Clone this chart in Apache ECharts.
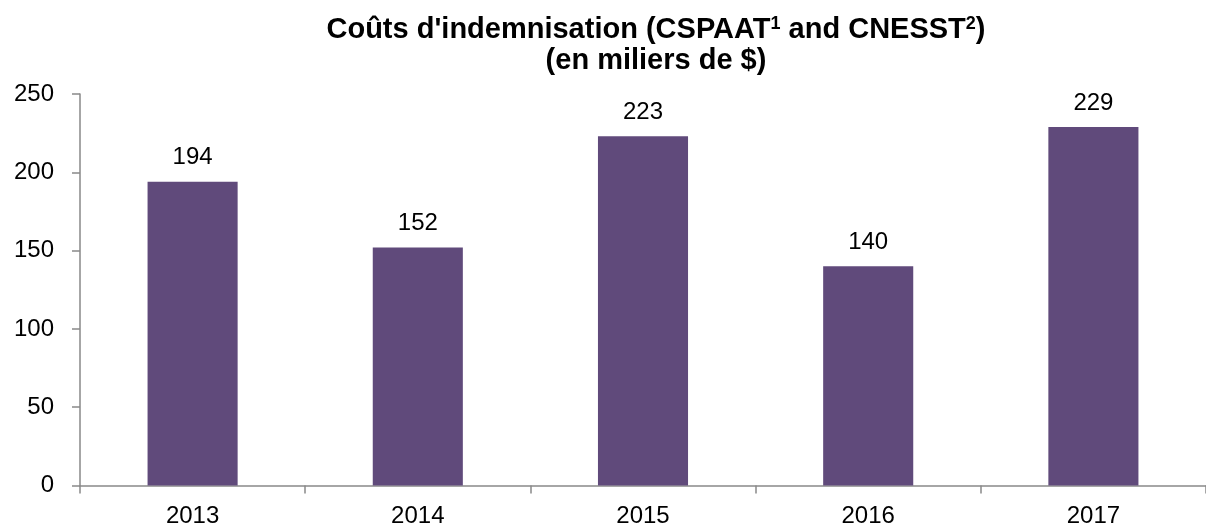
<!DOCTYPE html>
<html>
<head>
<meta charset="utf-8">
<script src="https://cdn.jsdelivr.net/npm/echarts@6/dist/echarts.min.js"></script>
<style>
html,body{margin:0;padding:0;background:#fff;}
#chart{width:1206px;height:529px;}
</style>
</head>
<body>
<div id="chart"></div>
<script>
const categories = ['2013', '2014', '2015', '2016', '2017'];
const values = [194, 152, 223, 140, 229];
const yTicks = [0, 50, 100, 150, 200, 250];

const chart = echarts.init(document.getElementById('chart'), null, {renderer: 'canvas'});
const FONT = '"Liberation Sans", Arial, sans-serif';
chart.setOption({
  animation: false,
  backgroundColor: '#ffffff',
  title: {
    text: "{t|Coûts d'indemnisation (CSPAAT}{s|1}{t| and CNESST}{s|2}{t|)}\n{t|(en miliers de $)}",
    left: 651,
    top: 9,
    textAlign: 'center',
    textStyle: {
      fontFamily: FONT,
      fontWeight: 'bold',
      fontSize: 29,
      color: '#000',
      lineHeight: 31,
      rich: {
        t: {fontFamily: FONT, fontWeight: 'bold', fontSize: 29, color: '#000', lineHeight: 31},
        s: {fontFamily: FONT, fontWeight: 'bold', fontSize: 18, color: '#000', lineHeight: 31, padding: [0, 0, 10, 0]}
      }
    }
  },
  grid: {left: 80, top: 94, width: 1135, bottom: 43.5, containLabel: false},
  xAxis: {
    type: 'category',
    data: categories,
    boundaryGap: true,
    axisLine: {show: true, lineStyle: {color: '#898989', width: 1.5}},
    axisTick: {show: true, alignWithLabel: false, length: 8, lineStyle: {color: '#898989', width: 1.5}},
    axisLabel: {color: '#000', fontFamily: FONT, fontSize: 24, margin: 19}
  },
  yAxis: {
    type: 'value',
    min: yTicks[0],
    max: yTicks[yTicks.length - 1],
    interval: yTicks[1] - yTicks[0],
    splitLine: {show: false},
    axisLine: {show: true, lineStyle: {color: '#898989', width: 1.5}},
    axisTick: {show: true, inside: false, length: 8, lineStyle: {color: '#898989', width: 1.5}},
    axisLabel: {color: '#000', fontFamily: FONT, fontSize: 24, margin: 26}
  },
  series: [{
    type: 'bar',
    data: values,
    barWidth: '40%',
    itemStyle: {color: '#604A7B'},
    label: {show: true, position: 'top', distance: 12, color: '#000', fontFamily: FONT, fontSize: 24}
  }]
});
</script>
</body>
</html>
